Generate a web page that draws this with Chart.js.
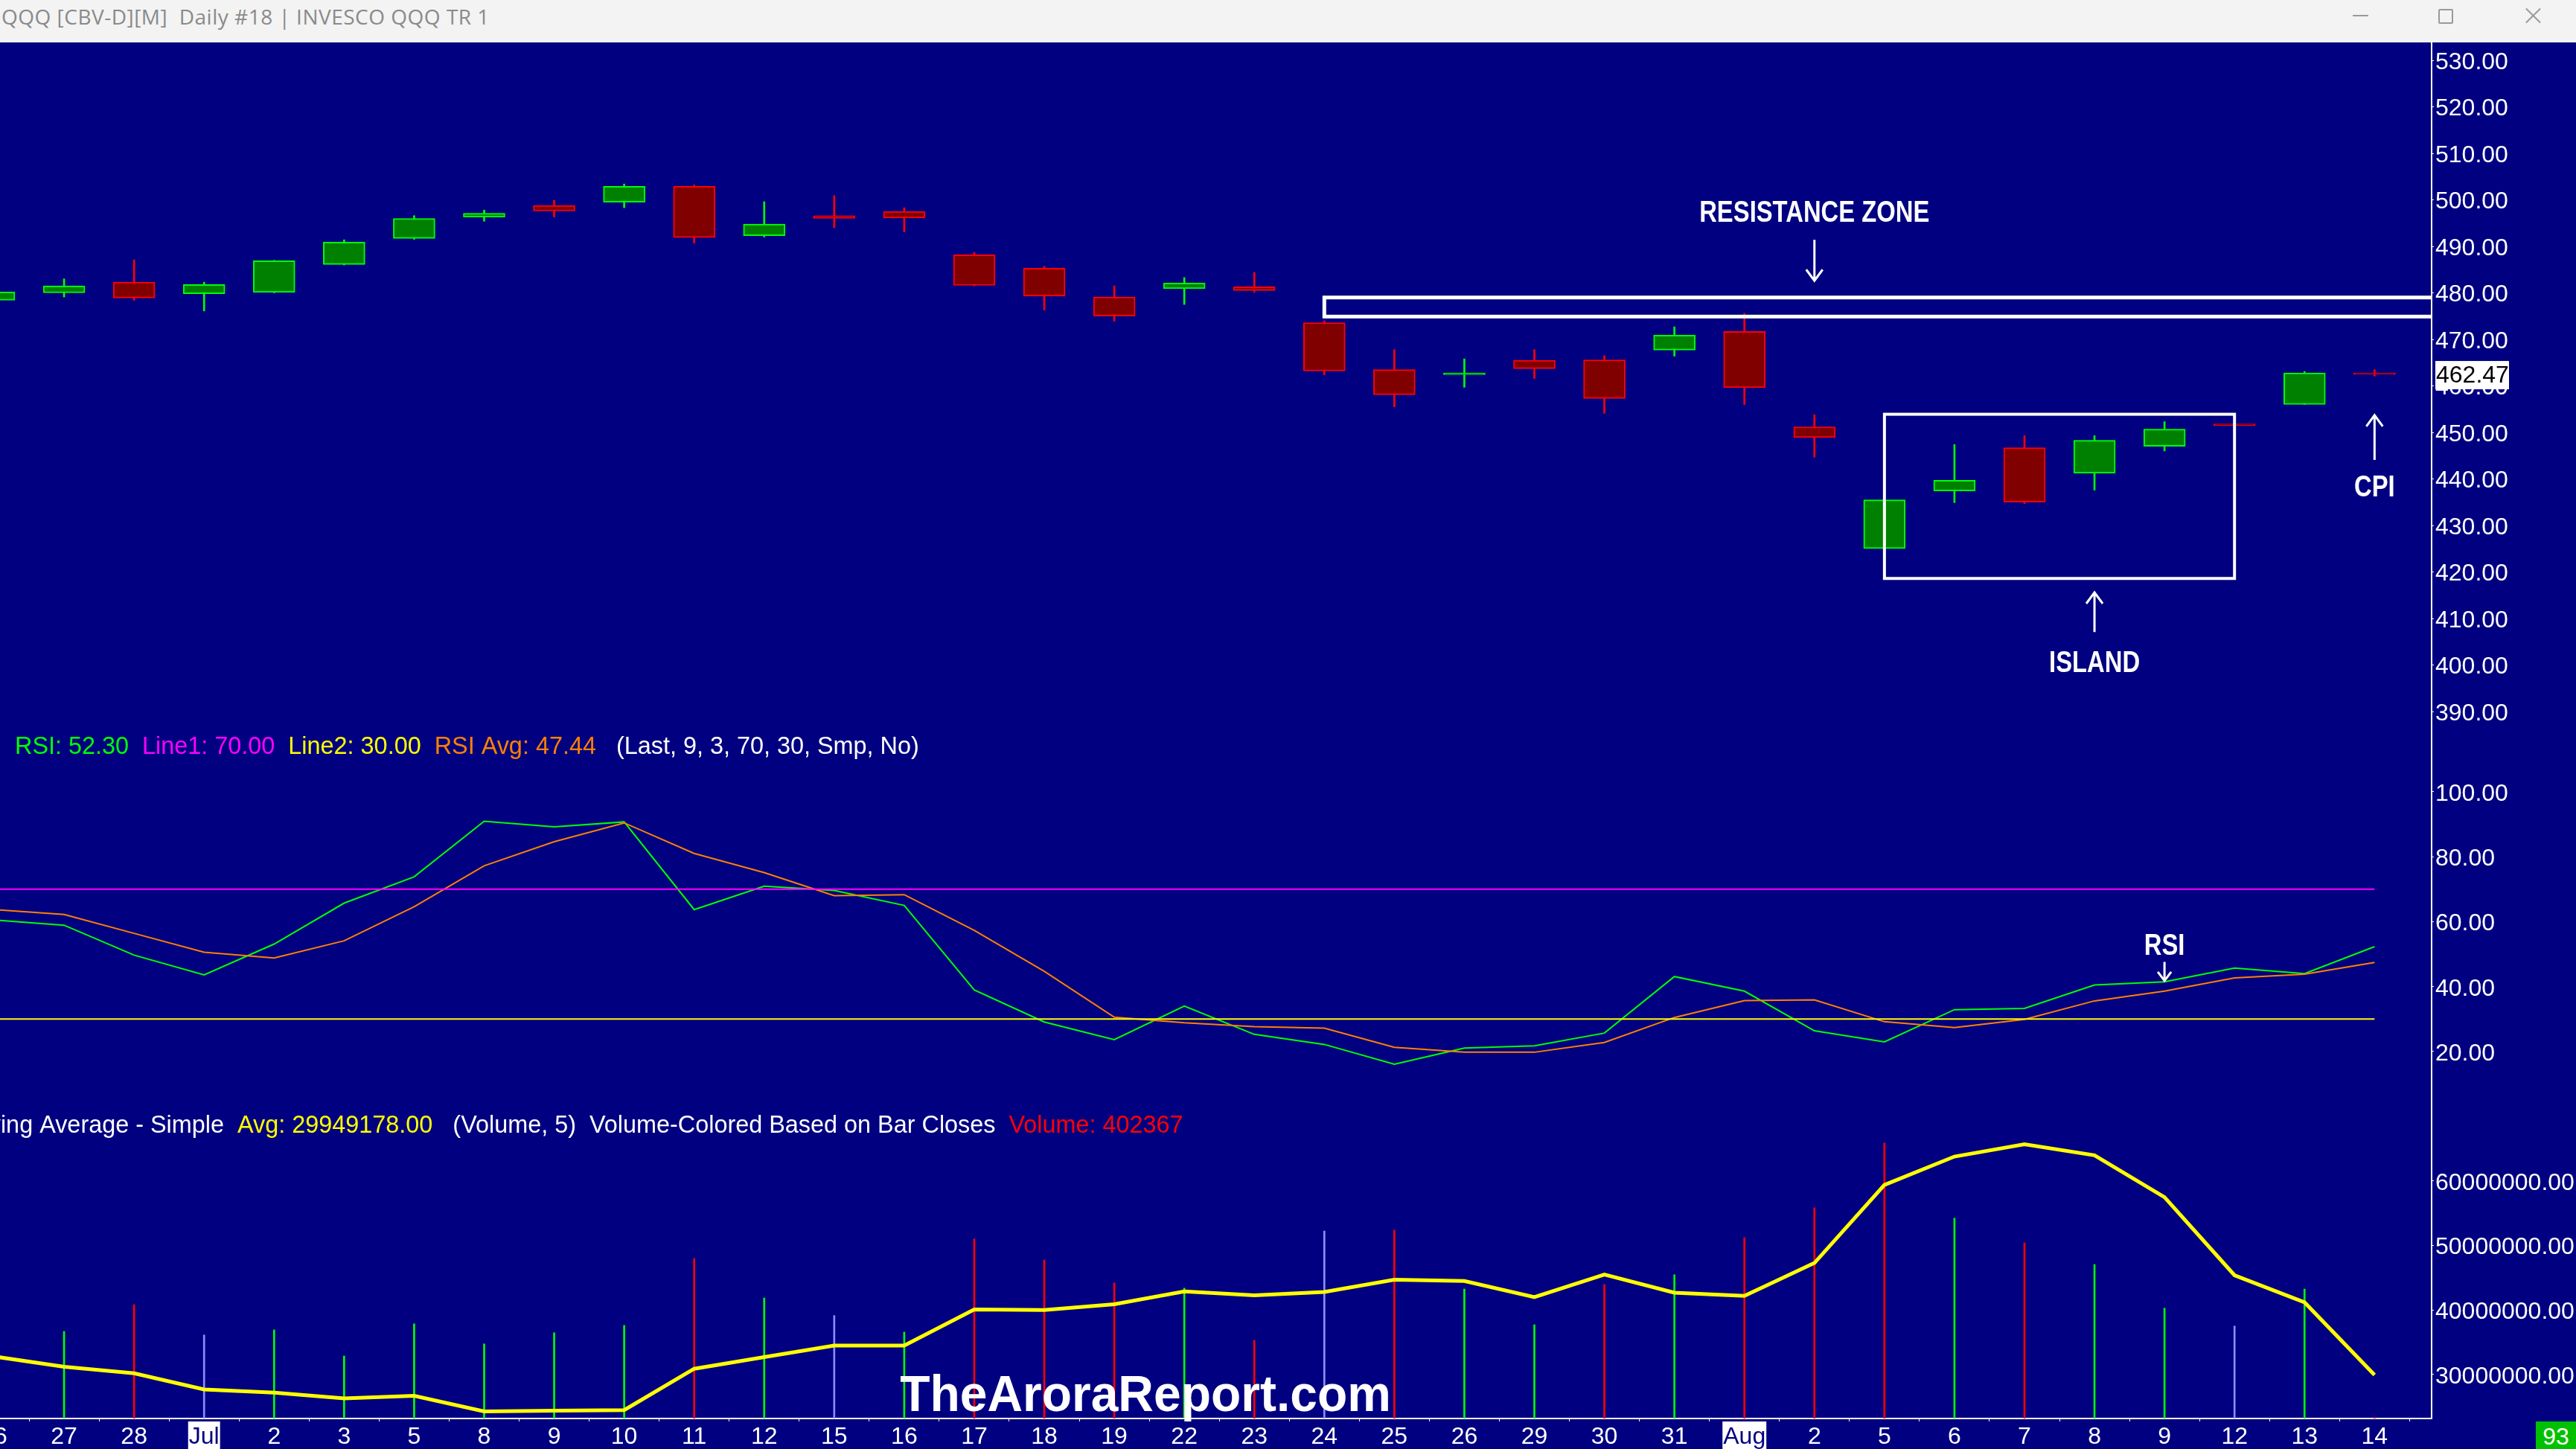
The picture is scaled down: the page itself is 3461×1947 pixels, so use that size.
<!DOCTYPE html>
<html lang="en">
<head>
<meta charset="utf-8">
<title>QQQ Daily</title>
<script src="https://cdn.jsdelivr.net/npm/chart.js@4.4.1/dist/chart.umd.min.js"></script>
<style>
  html, body { margin: 0; padding: 0; }
  body { width: 3461px; height: 1947px; background: #000080; position: relative; overflow: hidden; }
  #titlebar { position: absolute; left: 0; top: 0; width: 3461px; height: 57px; background: #f3f3f3; }
  #caption { position: absolute; left: 2px; top: 8px; font-family: "Open Sans", sans-serif; font-size: 28px; line-height: 28px; letter-spacing: 0.5px; color: #8a8a8a; white-space: pre; }
  .ctl { position: absolute; background: #9a9a9a; }
  #maxbox { position: absolute; left: 3276px; top: 12px; width: 16px; height: 16px; border: 2px solid #9a9a9a; border-radius: 2px; }
  canvas { position: absolute; left: 0; }
  #priceChart { top: 57px; }
  #rsiChart { top: 985px; }
  #volumeChart { top: 1490px; }
  #barCount { position: absolute; left: 3407px; top: 1910px; width: 54px; height: 37px; background: #00c000; color: #fff;
              font-family: "Liberation Sans", Arial, sans-serif; font-size: 32px; line-height: 40px; text-align: center; }
</style>
</head>
<body>
<div id="titlebar">
  <div id="caption">QQQ [CBV-D][M]  Daily #18 | INVESCO QQQ TR 1</div>
  <div class="ctl" style="left:3161px; top:20px; width:21px; height:2px;"></div>
  <div id="maxbox"></div>
  <div class="ctl" style="left:3390px; top:20px; width:27px; height:2px; transform:rotate(45deg);"></div>
  <div class="ctl" style="left:3390px; top:20px; width:27px; height:2px; transform:rotate(-45deg);"></div>
</div>
<canvas id="priceChart" width="3461" height="928"></canvas>
<canvas id="rsiChart" width="3461" height="505"></canvas>
<canvas id="volumeChart" width="3461" height="457"></canvas>
<div id="barCount">93</div>
<script>
// sessions, 26 Jun .. 14 Aug
const dateLabels = ['26', '27', '28', 'Jul', '2', '3', '5', '8', '9', '10', '11', '12', '15', '16', '17', '18', '19',
  '22', '23', '24', '25', '26', '29', '30', '31', 'Aug', '2', '5', '6', '7', '8', '9', '12', '13', '14'];

const openPrices = [478.4, 480.0, 482.3, 479.8, 480.1, 486.1, 491.7, 496.3, 498.8, 499.5, 502.9, 492.3, 496.6, 497.5,
  488.2, 485.3, 479.1, 480.9, 481.3, 473.6, 463.5, 462.4, 465.5, 465.6, 467.7, 471.7, 451.2, 425.0, 437.4, 446.7,
  441.2, 447.0, 451.6, 456.0, 462.7];
const highPrices = [480.5, 483.0, 487.1, 482.3, 487.0, 491.4, 496.6, 497.8, 499.9, 503.4, 503.2, 499.6, 500.9, 498.3,
  488.7, 485.7, 481.5, 483.3, 484.4, 474.0, 467.8, 465.8, 467.8, 466.5, 472.7, 475.6, 453.8, 435.6, 447.4, 449.3,
  449.3, 452.3, 451.6, 463.1, 463.5];
const lowPrices = [478.0, 479.1, 478.4, 476.1, 480.0, 486.0, 491.5, 495.4, 496.3, 498.3, 490.7, 492.0, 494.0, 493.1,
  481.5, 476.3, 473.9, 477.5, 480.1, 462.4, 455.5, 459.7, 461.6, 454.1, 466.4, 456.0, 444.7, 424.9, 434.9, 434.7,
  437.6, 446.0, 451.5, 456.0, 462.1];
const closePrices = [480.2, 481.5, 478.9, 481.8, 486.9, 490.9, 496.0, 497.1, 497.6, 502.9, 491.9, 494.8, 496.0, 496.1,
  481.6, 479.3, 475.0, 482.1, 480.5, 463.2, 458.1, 462.8, 463.7, 457.3, 470.9, 459.6, 448.9, 435.5, 439.7, 435.0,
  448.3, 450.7, 451.5, 462.8, 462.47];
const lastPrice = 462.47;
const priceTicks = [390, 400, 410, 420, 430, 440, 450, 460, 470, 480, 490, 500, 510, 520, 530];

const rsiValues = [60.5, 58.9, 49.7, 43.6, 53.1, 65.7, 73.8, 90.9, 89.2, 90.7, 63.7, 70.9, 69.6, 65.0, 39.0, 29.1,
  23.7, 34.0, 25.3, 22.2, 16.1, 21.1, 21.8, 25.7, 43.1, 38.6, 26.4, 23.0, 32.9, 33.3, 40.5, 41.5, 45.7, 44.0, 52.30];
const rsiAvgValues = [63.7, 62.2, 56.4, 50.6, 48.8, 54.1, 64.6, 77.2, 84.6, 90.4, 81.0, 75.1, 68.0, 68.3, 57.3, 44.7,
  30.6, 28.9, 27.7, 27.2, 21.3, 19.8, 19.8, 22.8, 30.5, 35.7, 35.9, 29.2, 27.4, 29.9, 35.6, 38.6, 42.7, 43.8, 47.44];
const rsiUpper = 70;
const rsiLower = 30;
const rsiTicks = [20, 40, 60, 80, 100];

const volumeValues = [19000000, 27300000, 35700000, 26200000, 27800000, 19600000, 29700000, 23400000, 26900000,
  29200000, 50200000, 37800000, 32300000, 27100000, 56300000, 49700000, 42500000, 40900000, 24500000, 58800000,
  59100000, 40600000, 29400000, 42000000, 45100000, 56700000, 66100000, 86400000, 62800000, 55100000, 48300000,
  34600000, 29000000, 40600000, 402367];
// 1 = closed up, -1 = closed down, 0 = neutral
const volumeSide = [1, 1, -1, 0, 1, 1, 1, 1, 1, 1, -1, 1, 0, 1, -1, -1, -1, 1, -1, 0, -1, 1, 1, -1, 1, -1, -1, -1,
  1, -1, 1, 1, 0, 1, -1];
const volumeAvgValues = [32800000, 31200000, 30200000, 27700000, 27200000, 26300000, 26700000, 24300000, 24400000,
  24500000, 30900000, 32700000, 34500000, 34500000, 40100000, 40000000, 40900000, 42900000, 42300000, 42800000,
  44700000, 44500000, 42000000, 45500000, 42700000, 42200000, 47300000, 59400000, 63800000, 65700000, 64000000,
  57500000, 45400000, 41200000, 29949178];
const volumeTicks = [30000000, 40000000, 50000000, 60000000];

// notes drawn on the price pane
const resistanceZone = { fromIndex: 19, top: 479.0, bottom: 474.9 };
const islandBox = { fromIndex: 27, toIndex: 32, top: 453.9, bottom: 418.6 };
const priceNotes = [
  { text: 'RESISTANCE ZONE', index: 26, labelAt: 497.7, arrowFrom: 491.4, arrowTo: 482.6 },
  { text: 'ISLAND', index: 30, labelAt: 400.9, arrowFrom: 407.1, arrowTo: 415.6 },
  { text: 'CPI', index: 34, labelAt: 438.6, arrowFrom: 444.1, arrowTo: 453.7 }
];
const rsiNote = { text: 'RSI', index: 31, labelAt: 53.2, arrowFrom: 47.6, arrowTo: 41.8 };

const FONT = '"Liberation Sans", Arial, Helvetica, sans-serif';
Chart.defaults.font.family = FONT;
Chart.defaults.font.size = 32;
Chart.defaults.color = '#ffffff';
Chart.defaults.animation = false;
Chart.defaults.plugins.legend.display = false;
Chart.defaults.plugins.tooltip.enabled = false;

const idx = dateLabels.map((_, i) => i);
const isUp = i => closePrices[i] >= openPrices[i];
const isMonth = i => isNaN(Number(dateLabels[i]));
const sideColor = { '1': '#00ff00', '-1': '#ff0000', '0': '#8c8cff' };

// index i sits at pixel -8 + 94.07 * i
const X_MIN = 0.085;
const X_MAX = 34.815;

function hiddenX() {
  return { type: 'linear', min: X_MIN, max: X_MAX, offset: false, display: false };
}

function rightAxis(min, max, tickValues) {
  return {
    type: 'linear', position: 'right', min: min, max: max,
    afterBuildTicks: s => { s.ticks = tickValues.map(v => ({ value: v })); },
    afterFit: s => { s.width = 194; s.paddingTop = 0; s.paddingBottom = 0; },
    ticks: { color: '#fff', padding: 2, labelOffset: 3, autoSkip: false, callback: v => Number(v).toFixed(2) },
    grid: { drawOnChartArea: false, color: '#fff', tickLength: 3 },
    border: { color: '#fff', width: 2 }
  };
}

function drawArrow(ctx, x, yFrom, yTo, headW, headL) {
  const dir = Math.sign(yTo - yFrom);
  ctx.beginPath();
  ctx.moveTo(x, yFrom);
  ctx.lineTo(x, yTo);
  ctx.moveTo(x - headW, yTo - dir * headL);
  ctx.lineTo(x, yTo);
  ctx.lineTo(x + headW, yTo - dir * headL);
  ctx.stroke();
}

function drawNoteText(ctx, text, x, yCenter) {
  ctx.save();
  ctx.font = 'bold 41px ' + FONT;
  ctx.fillStyle = '#fff';
  ctx.textAlign = 'center';
  ctx.textBaseline = 'alphabetic';
  ctx.translate(x, yCenter + 15);
  ctx.scale(0.8, 1);
  ctx.fillText(text, 0, 0);
  ctx.restore();
}

function drawSegments(ctx, x, y, segments) {
  ctx.save();
  ctx.font = '32.4px ' + FONT;
  ctx.textAlign = 'left';
  ctx.textBaseline = 'alphabetic';
  segments.forEach(([text, color, gap]) => {
    ctx.fillStyle = color;
    ctx.fillText(text, x, y);
    x += ctx.measureText(text + gap).width;
  });
  ctx.restore();
}

const priceNotesPlugin = {
  id: 'priceNotes',
  afterDatasetsDraw(chart) {
    const { ctx, chartArea } = chart;
    const x = chart.scales.x, y = chart.scales.y;
    ctx.save();
    ctx.beginPath();
    ctx.rect(chartArea.left, chartArea.top, chartArea.width, chartArea.height);
    ctx.clip();
    ctx.strokeStyle = '#fff';

    ctx.lineWidth = 5;
    const zx = x.getPixelForValue(resistanceZone.fromIndex);
    const zt = y.getPixelForValue(resistanceZone.top);
    ctx.strokeRect(zx, zt, chartArea.right + 4 - zx, y.getPixelForValue(resistanceZone.bottom) - zt);

    ctx.lineWidth = 4;
    const ix = x.getPixelForValue(islandBox.fromIndex);
    const it = y.getPixelForValue(islandBox.top);
    ctx.strokeRect(ix, it, x.getPixelForValue(islandBox.toIndex) - ix, y.getPixelForValue(islandBox.bottom) - it);

    ctx.lineWidth = 3;
    priceNotes.forEach(n => {
      const px = x.getPixelForValue(n.index);
      drawNoteText(ctx, n.text, px, y.getPixelForValue(n.labelAt));
      drawArrow(ctx, px, y.getPixelForValue(n.arrowFrom), y.getPixelForValue(n.arrowTo), 11, 15);
    });
    ctx.restore();
  },
  afterDraw(chart) {
    const { ctx, chartArea } = chart;
    const py = chart.scales.y.getPixelForValue(lastPrice);
    ctx.save();
    ctx.fillStyle = '#fff';
    ctx.fillRect(chartArea.right + 5, py - 18, 99, 38);
    ctx.fillStyle = '#000';
    ctx.font = '32px ' + FONT;
    ctx.textBaseline = 'middle';
    ctx.fillText(lastPrice.toFixed(2), chartArea.right + 6, py + 2);
    ctx.restore();
  }
};

const rsiNotesPlugin = {
  id: 'rsiNotes',
  afterDatasetsDraw(chart) {
    const { ctx } = chart;
    const x = chart.scales.x, y = chart.scales.y;
    const last = rsiValues.length - 1;
    drawSegments(ctx, 20, 28, [
      ['RSI: ' + rsiValues[last].toFixed(2), '#00ff00', '  '],
      ['Line1: ' + rsiUpper.toFixed(2), '#ff00ff', '  '],
      ['Line2: ' + rsiLower.toFixed(2), '#ffff00', '  '],
      ['RSI Avg: ' + rsiAvgValues[last].toFixed(2), '#ff8000', '   '],
      ['(Last, 9, 3, 70, 30, Smp, No)', '#ffffff', '']
    ]);
    const px = x.getPixelForValue(rsiNote.index);
    drawNoteText(ctx, rsiNote.text, px, y.getPixelForValue(rsiNote.labelAt));
    ctx.save();
    ctx.strokeStyle = '#fff';
    ctx.lineWidth = 3;
    drawArrow(ctx, px, y.getPixelForValue(rsiNote.arrowFrom), y.getPixelForValue(rsiNote.arrowTo), 9, 12);
    ctx.restore();
  }
};

const volumeNotesPlugin = {
  id: 'volumeNotes',
  afterDatasetsDraw(chart) {
    const { ctx } = chart;
    const last = volumeValues.length - 1;
    ctx.save();
    ctx.font = '32.4px ' + FONT;
    const first = 'Moving Average - Simple';
    const startX = 301 - ctx.measureText(first).width;
    ctx.restore();
    drawSegments(ctx, startX, 32, [
      [first, '#ffffff', '  '],
      ['Avg: ' + volumeAvgValues[last].toFixed(2), '#ffff00', '   '],
      ['(Volume, 5)', '#ffffff', '  '],
      ['Volume-Colored Based on Bar Closes', '#ffffff', '  '],
      ['Volume: ' + volumeValues[last], '#ff0000', '']
    ]);
    ctx.save();
    ctx.font = 'bold 68px ' + FONT;
    ctx.fillStyle = '#fff';
    ctx.textAlign = 'center';
    ctx.textBaseline = 'alphabetic';
    ctx.translate(1539, 406);
    ctx.scale(0.97, 1);
    ctx.fillText('TheAroraReport.com', 0, 0);
    ctx.restore();
  }
};

new Chart(document.getElementById('priceChart'), {
  type: 'bar',
  data: {
    datasets: [
      {
        label: 'Wick',
        data: idx.map(i => ({ x: i, y: [lowPrices[i], highPrices[i]] })),
        backgroundColor: idx.map(i => isUp(i) ? '#00ff00' : '#ff0000'),
        barThickness: 2,
        grouped: false,
        order: 2
      },
      {
        label: 'QQQ',
        data: idx.map(i => ({ x: i, y: [openPrices[i], closePrices[i]] })),
        backgroundColor: idx.map(i => isUp(i) ? '#008000' : '#800000'),
        borderColor: idx.map(i => isUp(i) ? '#00ff00' : '#ff0000'),
        borderWidth: 2,
        borderSkipped: false,
        barThickness: 56,
        minBarLength: 2,
        grouped: false,
        order: 1
      }
    ]
  },
  options: {
    responsive: false,
    layout: { padding: 0 },
    scales: { x: hiddenX(), y: rightAxis(385.36, 533.84, priceTicks) }
  },
  plugins: [priceNotesPlugin]
});

new Chart(document.getElementById('rsiChart'), {
  type: 'line',
  data: {
    datasets: [
      { label: 'Line1', data: [{ x: 0, y: rsiUpper }, { x: idx.length - 1, y: rsiUpper }],
        borderColor: '#ff00ff', borderWidth: 2, pointRadius: 0 },
      { label: 'Line2', data: [{ x: 0, y: rsiLower }, { x: idx.length - 1, y: rsiLower }],
        borderColor: '#ffff00', borderWidth: 2, pointRadius: 0 },
      { label: 'RSI Avg', data: idx.map(i => ({ x: i, y: rsiAvgValues[i] })),
        borderColor: '#ff8000', borderWidth: 2, pointRadius: 0 },
      { label: 'RSI', data: idx.map(i => ({ x: i, y: rsiValues[i] })),
        borderColor: '#00ff00', borderWidth: 2, pointRadius: 0 }
    ]
  },
  options: {
    responsive: false,
    layout: { padding: 0 },
    scales: { x: hiddenX(), y: rightAxis(2.36, 118.05, rsiTicks) }
  },
  plugins: [rsiNotesPlugin]
});

new Chart(document.getElementById('volumeChart'), {
  type: 'bar',
  data: {
    datasets: [
      { type: 'line', label: 'Avg', data: idx.map(i => ({ x: i, y: volumeAvgValues[i] })),
        borderColor: '#ffff00', borderWidth: 5, pointRadius: 0, yAxisID: 'y', order: 1 },
      { type: 'bar', label: 'Volume', data: idx.map(i => ({ x: i, y: volumeValues[i] })),
        backgroundColor: idx.map(i => sideColor[volumeSide[i]]), barThickness: 2, yAxisID: 'yBar', order: 2 }
    ]
  },
  options: {
    responsive: false,
    layout: { padding: 0 },
    scales: {
      x: {
        type: 'linear', position: 'bottom', min: X_MIN, max: X_MAX, offset: false,
        afterBuildTicks: s => { s.ticks = idx.map(i => ({ value: i })); },
        afterFit: s => { s.height = 41; s.paddingLeft = 0; s.paddingRight = 0; },
        ticks: {
          autoSkip: false, maxRotation: 0, padding: 2,
          callback: v => dateLabels[v],
          color: c => isMonth(c.tick.value) ? '#000080' : '#ffffff',
          showLabelBackdrop: true,
          backdropColor: c => isMonth(c.tick.value) ? '#ffffff' : 'rgba(0,0,0,0)',
          backdropPadding: { top: 2, bottom: 8, left: 1, right: 1 }
        },
        grid: { drawOnChartArea: false, color: '#fff', tickLength: 4 },
        border: { color: '#fff', width: 2 }
      },
      y: rightAxis(23190000, 71190000, volumeTicks),
      yBar: { type: 'linear', display: false, min: 0, max: 97100000 }
    }
  },
  plugins: [volumeNotesPlugin]
});
</script>
</body>
</html>
